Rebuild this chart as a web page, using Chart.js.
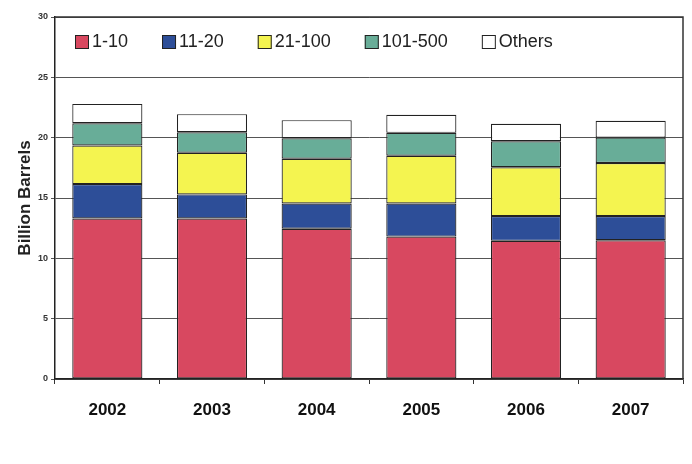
<!DOCTYPE html>
<html>
<head>
<meta charset="utf-8">
<script src="https://cdn.jsdelivr.net/npm/chart.js@4"></script>
<style>
    html, body { margin: 0; padding: 0; background: #fff; }
    #wrap { width: 692px; height: 464px; }
</style>
</head>
<body>
<div id="wrap"><canvas id="myBarChart" width="692" height="464"></canvas></div>
<script>
const years = ['2002', '2003', '2004', '2005', '2006', '2007'];
const seriesNames = ['1-10', '11-20', '21-100', '101-500', 'Others'];
const fieldSize1to10 = [13.3, 13.3, 12.45, 11.8, 11.45, 11.5];
const fieldSize11to20 = [2.85, 2.0, 2.1, 2.75, 2.05, 2.0];
const fieldSize21to100 = [3.2, 3.45, 3.7, 3.95, 4.05, 4.4];
const fieldSize101to500 = [1.85, 1.7, 1.7, 1.9, 2.15, 2.1];
const fieldOthers = [1.6, 1.5, 1.5, 1.5, 1.45, 1.4];
const yTicks = [0, 5, 10, 15, 20, 25, 30];

const colors = ['#d84860', '#2d4e98', '#f4f450', '#68ad98', '#ffffff'];
const values = [fieldSize1to10, fieldSize11to20, fieldSize21to100, fieldSize101to500, fieldOthers];

// legend sits inside the plot, drawn by hand so the spacing matches
const insideLegend = {
    id: 'insideLegend',
    afterDraw: function (chart) {
        const ctx = chart.ctx;
        ctx.save();
        ctx.font = '18px Arial, "Liberation Sans", sans-serif';
        ctx.textBaseline = 'middle';
        let x = 75;
        const y = 42;
        chart.data.datasets.forEach(function (ds) {
            ctx.fillStyle = ds.backgroundColor;
            ctx.fillRect(x, y - 7, 14, 14);
            ctx.strokeStyle = '#222';
            ctx.lineWidth = 1;
            ctx.strokeRect(x + 0.5, y - 6.5, 13, 13);
            ctx.fillStyle = '#222';
            ctx.fillText(ds.label, x + 17, y);
            x += 17 + ctx.measureText(ds.label).width + 34;
        });
        ctx.restore();
    }
};

// right and top frame of the plot
const frame = {
    id: 'frame',
    afterDraw: function (chart) {
        const a = chart.chartArea;
        const ctx = chart.ctx;
        ctx.save();
        ctx.strokeStyle = '#333';
        ctx.lineWidth = 1.5;
        ctx.beginPath();
        ctx.moveTo(a.left, a.top);
        ctx.lineTo(a.right, a.top);
        ctx.lineTo(a.right, a.bottom);
        ctx.stroke();
        ctx.restore();
    }
};

var ctx = document.getElementById('myBarChart').getContext('2d');

var myBarChart = new Chart(ctx, {
    type: 'bar',
    data: {
        labels: years,
        datasets: seriesNames.map(function (name, i) {
            return {
                label: name,
                data: values[i],
                backgroundColor: colors[i],
                borderColor: '#222',
                borderWidth: 1.2,
                borderSkipped: false,
                categoryPercentage: 1,
                barPercentage: 0.67
            };
        })
    },
    options: {
        responsive: false,
        animation: false,
        layout: { padding: { top: 17, right: 9, left: 0, bottom: 0 } },
        plugins: {
            legend: { display: false },
            tooltip: { enabled: false }
        },
        scales: {
            x: {
                stacked: true,
                afterFit: function (scale) { scale.height = 85; },
                grid: {
                    offset: true,
                    drawOnChartArea: false,
                    color: '#333',
                    tickLength: 5
                },
                border: { color: '#222', width: 1.5 },
                ticks: {
                    padding: 16,
                    color: '#111',
                    font: { family: 'Arial, "Liberation Sans", sans-serif', size: 17, weight: 'bold' }
                }
            },
            y: {
                stacked: true,
                min: 0,
                max: 30,
                afterFit: function (scale) { scale.width = 55; },
                afterBuildTicks: function (scale) {
                    scale.ticks = yTicks.map(function (v) { return { value: v }; });
                },
                grid: {
                    color: '#555',
                    lineWidth: 1,
                    tickLength: 4
                },
                border: { color: '#222', width: 1.5 },
                ticks: {
                    padding: 3,
                    color: '#333',
                    font: { family: 'Arial, "Liberation Sans", sans-serif', size: 9, weight: 'bold' }
                },
                title: {
                    display: true,
                    text: 'Billion Barrels',
                    color: '#222',
                    padding: { top: 15, bottom: 0 },
                    font: { family: 'Arial, "Liberation Sans", sans-serif', size: 17, weight: 'bold' }
                }
            }
        }
    },
    plugins: [insideLegend, frame]
});
</script>
</body>
</html>
